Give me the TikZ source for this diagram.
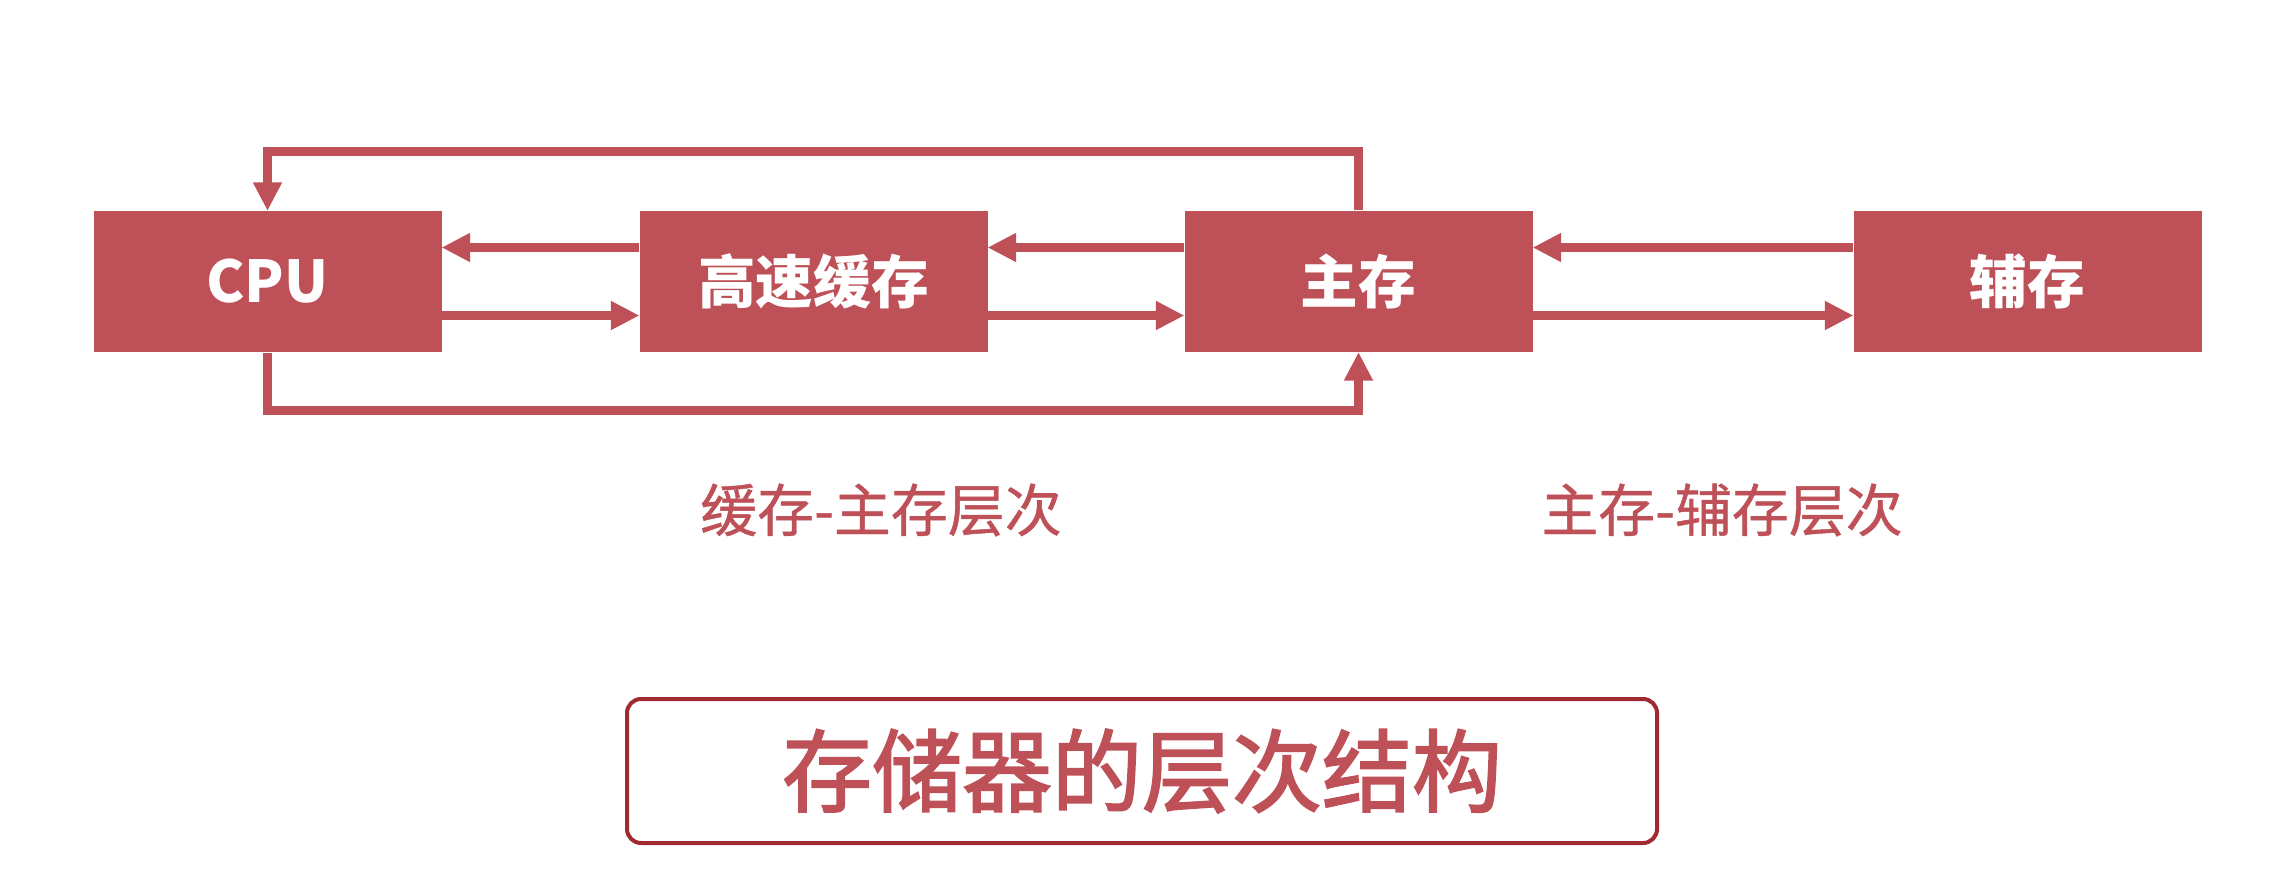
\documentclass[tikz,border=0pt]{standalone}
\usepackage{fontspec}
\setmainfont{Noto Sans CJK SC}
\newfontfamily\levelfont[FakeBold=0.8]{Noto Sans CJK SC}
\newfontfamily\titlefont[FakeBold=2]{Noto Sans CJK SC}
\usepackage{tikz}
\usetikzlibrary{arrows.meta,positioning}
\definecolor{memred}{RGB}{190,80,88}
\definecolor{borderred}{RGB}{160,42,48}

\begin{document}
\begin{tikzpicture}[
  block/.style={fill=memred, text=white, minimum width=3.48cm, minimum height=1.41cm, align=center, font=\fontsize{16.4}{20}\selectfont\bfseries},
  arrow/.style={-{Triangle[length=2.8mm, width=2.9mm, fill=memred, line width=0.2mm]}, line width=0.9mm, draw=memred},
  level/.style={text=memred, font=\fontsize{16.2}{20}\levelfont},
  titlebox/.style={draw=borderred, line width=0.4mm, rounded corners=1.4mm, minimum width=10.3cm, minimum height=1.44cm, text=memred, font=\fontsize{25.6}{30}\titlefont}
]
  \useasboundingbox (0,0) rectangle (22.78,8.8);

  % Memory blocks
  \node[block] (cpu) at (2.675, 5.985) {CPU};
  \node[block] (cache) at (8.135, 5.985) {高速缓存};
  \node[block] (mainmem) at (13.585, 5.985) {主存};
  \node[block] (auxmem) at (20.275, 5.985) {辅存};

  % Arrows between neighbours
  \draw[arrow] ([yshift=3.4mm]cache.west) -- ([yshift=3.4mm]cpu.east);
  \draw[arrow] ([yshift=-3.4mm]cpu.east) -- ([yshift=-3.4mm]cache.west);
  \draw[arrow] ([yshift=3.4mm]mainmem.west) -- ([yshift=3.4mm]cache.east);
  \draw[arrow] ([yshift=-3.4mm]cache.east) -- ([yshift=-3.4mm]mainmem.west);
  \draw[arrow] ([yshift=3.4mm]auxmem.west) -- ([yshift=3.4mm]mainmem.east);
  \draw[arrow] ([yshift=-3.4mm]mainmem.east) -- ([yshift=-3.4mm]auxmem.west);

  % Direct paths CPU <-> main memory
  \draw[arrow] (mainmem.north) -- ++(0,0.59) -| (cpu.north);
  \draw[arrow] (cpu.south) -- ++(0,-0.58) -| (mainmem.south);

  % Hierarchy levels
  \node[level] (lblcache) at (8.81, 3.70) {缓存-主存层次};
  \node[level] (lblaux) at (17.22, 3.70) {主存-辅存层次};

  % Title
  \node[titlebox] (title) at (11.42, 1.09) {存储器的层次结构};
\end{tikzpicture}
\end{document}
